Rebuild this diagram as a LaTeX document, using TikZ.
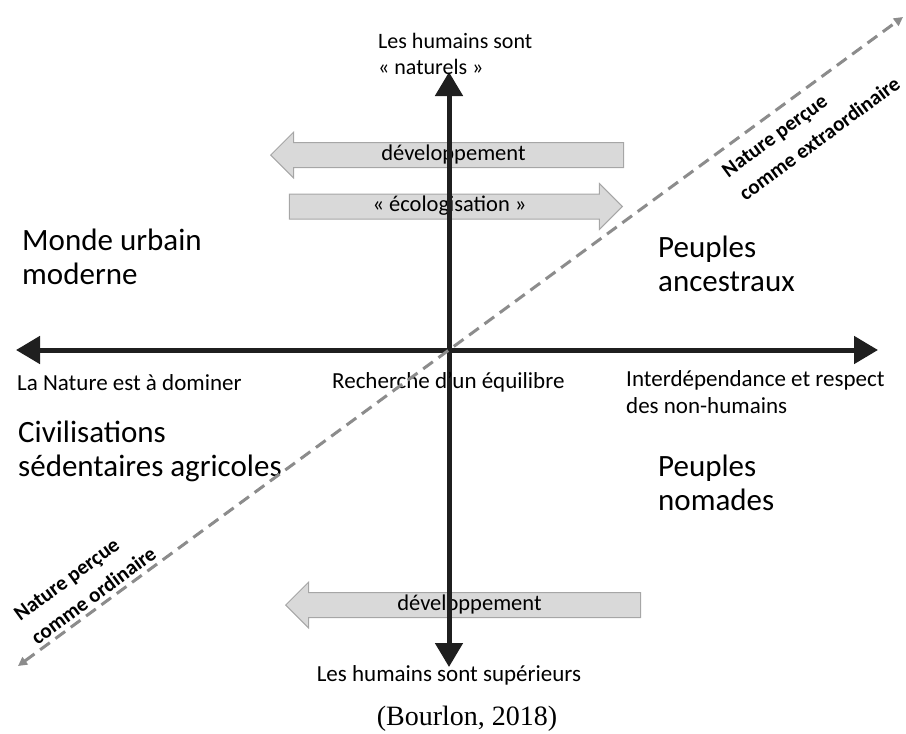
\documentclass[tikz,border=0pt]{standalone}
\usepackage{fontspec}
\setmainfont{Carlito}
\newfontfamily\sourcefont{Liberation Serif}
\usetikzlibrary{positioning,shapes,arrows.meta,calc}

\definecolor{axisgray}{HTML}{1F1F1F}
\definecolor{dashgray}{HTML}{8C8C8C}
\definecolor{boxfill}{HTML}{D9D9D9}
\definecolor{boxedge}{HTML}{A6A6A6}

\begin{document}
\begin{tikzpicture}[x=1pt,y=-1pt,
    axis/.style={line width=5pt,draw=axisgray,{Triangle[length=24pt,width=27pt]}-{Triangle[length=24pt,width=27pt]}},
    natureline/.style={line width=3pt,draw=dashgray,dash pattern=on 12pt off 7pt,{Triangle[length=9pt,width=9pt]}-{Triangle[length=9pt,width=9pt]}},
    lbl/.style={inner sep=0pt,font=\fontsize{23}{27}\selectfont,align=left},
    bigtxt/.style={inner sep=0pt,font=\fontsize{31}{34}\selectfont,align=left},
    slopetxt/.style={inner sep=0pt,font=\fontsize{21}{29}\selectfont\bfseries,align=left,rotate=36.3},
    blockarrow/.style={single arrow,draw=boxedge,fill=boxfill,line width=1pt,text height=15pt,text depth=5pt,inner xsep=4pt,inner ysep=2pt,single arrow head extend=10.5pt,font=\fontsize{22.5}{26}\selectfont}]
    \useasboundingbox (0,0) rectangle (906,734);

    % block arrows
    \node[blockarrow,shape border rotate=180,minimum height=353pt,anchor=tip] (devtop) at (270,155) {développement};
    \node[blockarrow,minimum height=333pt,anchor=tip] (ecolo) at (623,206.5) {« écologisation »};
    \node[blockarrow,shape border rotate=180,minimum height=355pt,anchor=tip] (devbot) at (285,605) {développement};

    % axes
    \coordinate (north) at (449,72);
    \coordinate (south) at (449,667);
    \coordinate (west) at (16,350);
    \coordinate (east) at (878,350);
    \draw[axis] (west) -- (east);
    \draw[axis] (south) -- (north);

    % labels
    \node[lbl,font=\fontsize{22}{26}\selectfont,anchor=north west] (natural) at (378,33) {Les humains sont\\« naturels »};
    \node[bigtxt,anchor=north west] (urban) at (22,229) {Monde urbain\\moderne};
    \node[bigtxt,anchor=north west] (ancestral) at (658,236) {Peuples\\ancestraux};
    \node[lbl,anchor=north west] (dominate) at (17,374) {La Nature est à dominer};
    \node[lbl,anchor=north west] (balance) at (332,372) {Recherche d’un équilibre};
    \node[lbl,anchor=north west] (respect) at (626,370) {Interdépendance et respect\\des non-humains};
    \node[bigtxt,anchor=north west] (sedentary) at (18,421) {Civilisations\\sédentaires agricoles};
    \node[bigtxt,anchor=north west] (nomadic) at (658,455) {Peuples\\nomades};
    \node[lbl,anchor=north] (superior) at (449,665) {Les humains sont supérieurs};
    \node[inner sep=0pt,font=\sourcefont\fontsize{28}{32}\selectfont,anchor=north] (source) at (467,706) {(Bourlon, 2018)};
    \node[slopetxt] (extraordinary) at (811,127) {Nature perçue\\comme extraordinaire};
    \node[slopetxt] (ordinarylbl) at (85,584) {Nature perçue\\comme ordinaire};

    % diagonal
    \coordinate (ordinary) at (18,666);
    \coordinate (extra) at (903,17);
    \draw[natureline] (ordinary) -- (extra);
\end{tikzpicture}
\end{document}
